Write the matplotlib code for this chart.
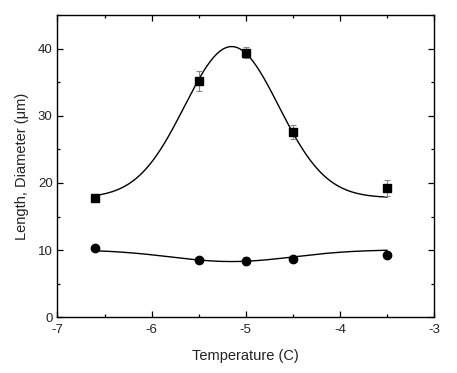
import numpy as np
import matplotlib
matplotlib.use("Agg")
import matplotlib.pyplot as plt
from matplotlib.ticker import MultipleLocator

plt.rcParams['font.family'] = ['Liberation Sans', 'DejaVu Sans']
plt.rcParams['axes.unicode_minus'] = False

temps = [-6.6, -5.5, -5.0, -4.5, -3.5]
length = [17.8, 35.2, 39.4, 27.6, 19.3]
length_err = [0.5, 1.5, 0.8, 1.1, 1.2]
diameter = [10.3, 8.6, 8.4, 8.7, 9.3]
diameter_err = [0.3, 0.3, 0.6, 0.3, 0.3]

# Gaussian fit parameters (baseline, amplitude, center, width)
length_fit = (17.8, 22.5, -5.15, 0.50)
diameter_fit = (10.05, -1.75, -5.15, 0.65)

def gauss(x, p):
    y0, a, xc, w = p
    return y0 + a * np.exp(-(x - xc) ** 2 / (2 * w ** 2))

fig = plt.figure(figsize=(4.57, 3.73), dpi=100)
ax = fig.add_axes([0.1258, 0.1493, 0.824, 0.8105])

xs = np.linspace(min(temps), max(temps), 300)
ax.plot(xs, gauss(xs, length_fit), color='black', lw=1.0)
ax.plot(xs, gauss(xs, diameter_fit), color='black', lw=1.0)

ax.errorbar(temps, length, yerr=length_err, fmt='none', ecolor='#888888',
            elinewidth=0.8, capsize=2.5, capthick=0.8)
ax.errorbar(temps, diameter, yerr=diameter_err, fmt='none', ecolor='#888888',
            elinewidth=0.8, capsize=2.5, capthick=0.8)
ax.plot(temps, length, 's', color='black', ms=5.5)
ax.plot(temps, diameter, 'o', color='black', ms=6)

ax.set_xlim(-7, -3)
ax.set_ylim(0, 45)
ax.xaxis.set_major_locator(MultipleLocator(1))
ax.xaxis.set_minor_locator(MultipleLocator(0.5))
ax.yaxis.set_major_locator(MultipleLocator(10))
ax.yaxis.set_minor_locator(MultipleLocator(5))
ax.tick_params(which='both', direction='in', top=True, right=True, labelsize=9.5,
               width=0.9, labelcolor='#222222')
ax.tick_params(which='major', length=4)
ax.tick_params(axis='x', which='major', pad=5)
ax.tick_params(which='minor', length=2.5)
for s in ax.spines.values():
    s.set_linewidth(1.0)

ax.set_xlabel('Temperature (C)', fontsize=10.5, labelpad=9, color='#222222')
ax.set_ylabel('Length, Diameter (\u03bcm)', fontsize=10.5, labelpad=6, color='#222222')

fig.savefig('out.png', dpi=100)
